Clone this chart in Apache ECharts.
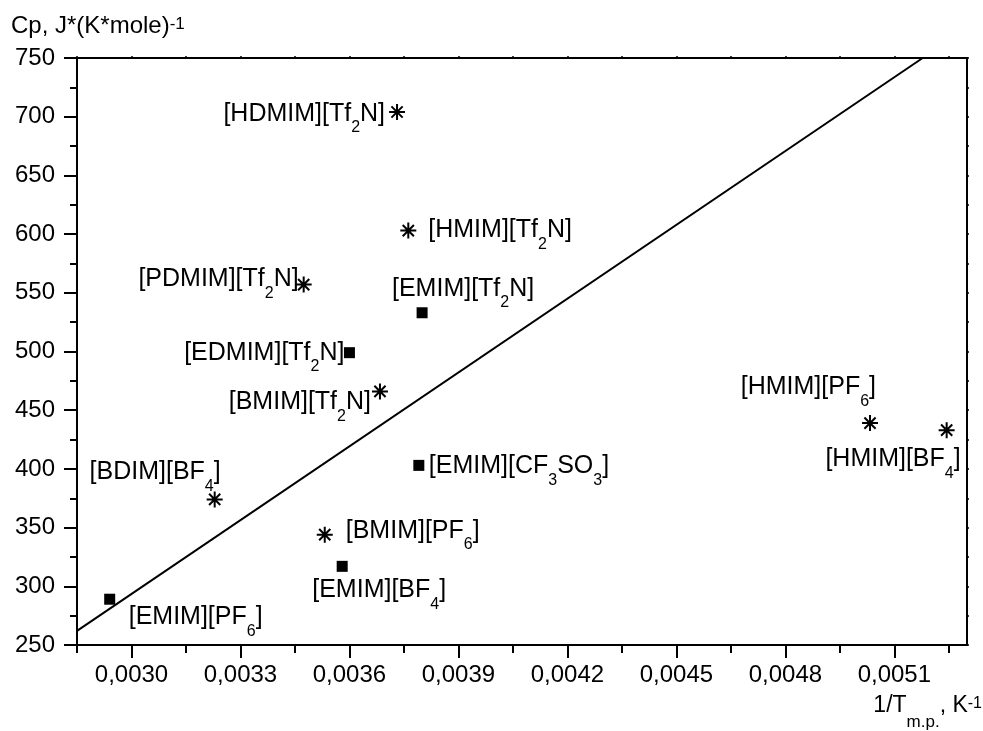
<!DOCTYPE html>
<html>
<head>
<meta charset="utf-8">
<script src="https://cdn.jsdelivr.net/npm/echarts@6/dist/echarts.min.js"></script>
<style>html,body{margin:0;padding:0;background:#fff}#c{width:983px;height:731px}</style>
</head>
<body>
<div id="c"></div>
<script>
// ---- data ----
const xMajorTicks = [0.0030, 0.0033, 0.0036, 0.0039, 0.0042, 0.0045, 0.0048, 0.0051];
const xMinorTicks = [0.00285, 0.00315, 0.00345, 0.00375, 0.00405, 0.00435, 0.00465, 0.00495, 0.00525];
const yTickLabels = [250, 300, 350, 400, 450, 500, 550, 600, 650, 700, 750];

const starNames = ['[HDMIM][Tf_2N]', '[HMIM][Tf_2N]', '[PDMIM][Tf_2N]', '[BMIM][Tf_2N]',
                   '[BDIM][BF_4]', '[BMIM][PF_6]', '[HMIM][PF_6]', '[HMIM][BF_4]'];
const starX = [0.003731, 0.003762, 0.003474, 0.003684, 0.003229, 0.003532, 0.005033, 0.005244];
const starY = [704, 603, 557, 466, 374, 344, 439, 433];

const squareNames = ['[EMIM][Tf_2N]', '[EDMIM][Tf_2N]', '[EMIM][CF_3SO_3]', '[EMIM][BF_4]', '[EMIM][PF_6]'];
const squareX = [0.003800, 0.003600, 0.003791, 0.003580, 0.002940];
const squareY = [533, 499, 403, 317, 289];

const fitX = [0.00285, 0.005178];
const fitY = [262, 750];

// ---- label placement (align, dx, dy in px relative to marker) ----
const labelLayout = {
  '[HDMIM][Tf_2N]': ['right', -12, 2],
  '[HMIM][Tf_2N]': ['left', 20, 0],
  '[PDMIM][Tf_2N]': ['right', -5, -5],
  '[BMIM][Tf_2N]': ['right', -9, 11],
  '[BDIM][BF_4]': ['right', 6, -27],
  '[BMIM][PF_6]': ['left', 21, -4],
  '[HMIM][PF_6]': ['right', 6, -36],
  '[HMIM][BF_4]': ['right', 14, 29],
  '[EMIM][Tf_2N]': ['center', 41, -24],
  '[EDMIM][Tf_2N]': ['right', -5, 0],
  '[EMIM][CF_3SO_3]': ['left', 10, 1],
  '[EMIM][BF_4]': ['center', 37, 24],
  '[EMIM][PF_6]': ['left', 19, 18]
};

const FONT = '"Liberation Sans", Arial, Helvetica, sans-serif';
const black = '#000';
function toRich(s) { return '{n|' + s.replace(/_(\d)/g, '}{s|$1}{n|') + '}'; }
const labelRich = {
  n: { fontSize: 25, fontFamily: FONT, color: black, fontWeight: 'normal' },
  s: { fontSize: 16, fontFamily: FONT, color: black, fontWeight: 'normal', padding: [28, 0, 0, 0] }
};

function buildPoints(names, xs, ys) {
  return names.map(function (n, i) {
    const L = labelLayout[n];
    return {
      name: n,
      value: [xs[i], ys[i]],
      label: {
        show: true, position: 'inside', align: L[0], verticalAlign: 'middle',
        offset: [L[1], L[2]], formatter: toRich(n), rich: labelRich, color: black, opacity: 1
      }
    };
  });
}

const STAR = 'path://M10,0L10,20M0,10L20,10M3,3L17,17M3,17L17,3';

const xMin = 0.00285, xMax = 0.0053, yMin = 250, yMax = 750;

const option = {
  animation: false,
  backgroundColor: '#fff',
  title: [
    {
      left: 11, top: 14, padding: 0,
      text: '{n|Cp, J*(K*mole)}{p|-1}',
      textStyle: { fontWeight: 'normal', rich: {
        n: { fontSize: 24, fontFamily: FONT, color: black, fontWeight: 'normal' },
        p: { fontSize: 17, fontFamily: FONT, color: black, fontWeight: 'normal', padding: [0, 0, 4, 0] }
      } }
    },
    {
      right: 1, top: 680, padding: 0,
      text: '{n|1/T}{s|m.p.}{n|, K}{p|-1}',
      textStyle: { fontWeight: 'normal', rich: {
        n: { fontSize: 23, fontFamily: FONT, color: black, fontWeight: 'normal' },
        s: { fontSize: 17, fontFamily: FONT, color: black, fontWeight: 'normal', padding: [34, 0, 0, 0] },
        p: { fontSize: 16, fontFamily: FONT, color: black, fontWeight: 'normal', padding: [0, 0, 4, 0] }
      } }
    }
  ],
  grid: { left: 77, right: 16, top: 58, bottom: 86, containLabel: false },
  xAxis: [
    {
      type: 'value', position: 'bottom', min: xMin, max: xMax,
      splitLine: { show: false },
      axisLine: { show: true, onZero: false, lineStyle: { color: black, width: 2 } },
      axisTick: { show: true, customValues: xMajorTicks, length: 13, lineStyle: { color: black, width: 2 } },
      axisLabel: { show: true, customValues: xMajorTicks, margin: 18, color: black, fontSize: 24, fontFamily: FONT,
        formatter: function (v) { return v.toFixed(4).replace('.', ','); } }
    },
    {
      type: 'value', position: 'bottom', min: xMin, max: xMax,
      splitLine: { show: false },
      axisLine: { show: false, onZero: false },
      axisTick: { show: true, customValues: xMinorTicks, length: 8, lineStyle: { color: black, width: 2 } },
      axisLabel: { show: false }
    },
    {
      type: 'value', position: 'top', min: xMin, max: xMax,
      splitLine: { show: false },
      axisLine: { show: true, onZero: false, lineStyle: { color: black, width: 2 } },
      axisTick: { show: true, customValues: xMajorTicks.concat(xMinorTicks), length: 2, lineStyle: { color: black, width: 1.5 } },
      axisLabel: { show: false }
    }
  ],
  yAxis: [
    {
      type: 'value', position: 'left', min: yMin, max: yMax, interval: 50,
      splitLine: { show: false },
      axisLine: { show: true, onZero: false, lineStyle: { color: black, width: 2 } },
      axisTick: { show: true, length: 13, lineStyle: { color: black, width: 2 } },
      minorTick: { show: true, splitNumber: 2, length: 7, lineStyle: { color: black, width: 2 } },
      axisLabel: { show: true, margin: 22, color: black, fontSize: 24, fontFamily: FONT,
        customValues: yTickLabels }
    },
    {
      type: 'value', position: 'right', min: yMin, max: yMax, interval: 25,
      splitLine: { show: false },
      axisLine: { show: true, onZero: false, lineStyle: { color: black, width: 2 } },
      axisTick: { show: true, length: 2, lineStyle: { color: black, width: 1.5 } },
      axisLabel: { show: false }
    }
  ],
  series: [
    {
      type: 'line', xAxisIndex: 0, yAxisIndex: 0,
      data: fitX.map(function (x, i) { return [x, fitY[i]]; }),
      showSymbol: false, symbol: 'none', silent: true,
      lineStyle: { color: black, width: 2 },
      emphasis: { disabled: true }
    },
    {
      type: 'scatter', xAxisIndex: 0, yAxisIndex: 0,
      symbol: STAR, symbolSize: 16, symbolKeepAspect: true,
      itemStyle: { color: black, borderColor: black, borderWidth: 2, opacity: 1 },
      emphasis: { disabled: true },
      data: buildPoints(starNames, starX, starY)
    },
    {
      type: 'scatter', xAxisIndex: 0, yAxisIndex: 0,
      symbol: 'rect', symbolSize: 11,
      itemStyle: { color: black, opacity: 1 },
      emphasis: { disabled: true },
      data: buildPoints(squareNames, squareX, squareY)
    }
  ]
};

const chart = echarts.init(document.getElementById('c'));
chart.setOption(option);
</script>
</body>
</html>
